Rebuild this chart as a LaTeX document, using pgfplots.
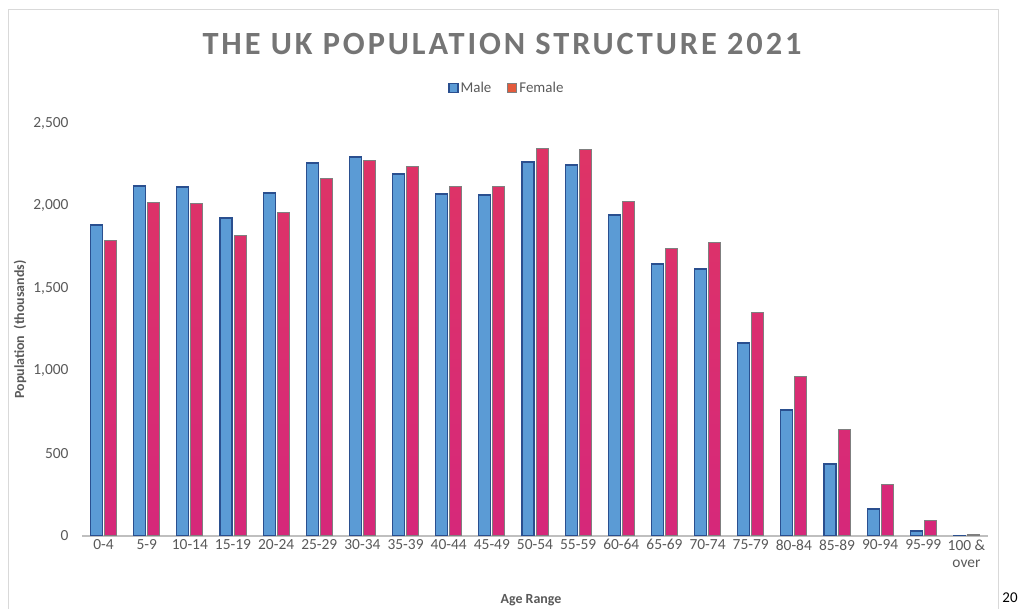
\documentclass[border=0pt]{standalone}
\usepackage{pgfplots}
\pgfplotsset{compat=1.18}
\usepackage{fontspec}
\setmainfont{Carlito}
\newfontfamily\titlefont[LetterSpace=9]{Carlito}
\definecolor{maleF}{HTML}{5B9BD5}
\definecolor{maleB}{HTML}{2A4F8F}
\definecolor{femF}{HTML}{D6287A}
\definecolor{femT}{HTML}{DE3466}
\definecolor{femB}{HTML}{7F7F7F}
\definecolor{femL}{HTML}{E45A3C}
\definecolor{txt}{HTML}{595959}
\definecolor{ttl}{HTML}{757575}
\definecolor{frm}{HTML}{D9D9D9}
\begin{document}
\begin{tikzpicture}[x=1bp,y=1bp]
\path[use as bounding box] (0,0) rectangle (1020,609);
\draw[frm, line width=1bp] (8,-5) -- (8,599) -- (998,599) -- (998,-5);
\node[font=\fontsize{15}{18}\selectfont, text=black] at (1010,11) {20};
\node[font=\titlefont\bfseries\fontsize{32.5}{36}\selectfont, text=ttl] at (502,565) {THE UK POPULATION STRUCTURE 2021};
\begin{axis}[
  at={(82bp,73bp)}, anchor=south west,
  scale only axis, width=906bp, height=413bp,
  xmin=-0.5, xmax=20.5, ymin=0, ymax=2500,
  ybar, bar width=12bp,
  xtick={0,...,20},
  xticklabels={0-4,5-9,10-14,15-19,20-24,25-29,30-34,35-39,40-44,45-49,50-54,55-59,60-64,65-69,70-74,75-79,80-84,85-89,90-94,95-99,{100 \&\\over}},
  xticklabel style={align=center},
  ytick={0,500,...,2500},
  /pgf/number format/1000 sep={,},
  /pgf/number format/assume math mode=true,
  tick label style={font=\fontsize{15.5}{17}\selectfont, text=txt},
  yticklabel style={xshift=-10bp},
  major tick length=0pt,
  axis lines*=left,
  y axis line style={draw=none},
  x axis line style={draw=black!25, line width=1.2bp},
  ylabel={\textbf{Population\ \ (thousands)}},
  y label style={at={(axis description cs:-0.0684,0.5)}, anchor=center, rotate=0, font=\fontsize{14}{16}\selectfont, text=txt},
  xlabel={\textbf{Age Range}},
  x label style={at={(axis description cs:0.4956,-0.155)}, anchor=center, font=\fontsize{14}{16}\selectfont, text=txt},
  legend columns=2,
  legend style={draw=none, fill=none, at={(rel axis cs:0.469,1.085)}, anchor=center, font=\fontsize{15}{17}\selectfont, text=txt,
    /tikz/every even column/.append style={column sep=14bp}},
  legend image code/.code={\draw[#1] (0bp,-4.5bp) rectangle (9bp,4.5bp);},
]
\addplot[bar shift=-7bp, fill=maleF, draw=maleB, line width=1.2bp, forget plot] coordinates {
(0,1883) (1,2119) (2,2113) (3,1925) (4,2076) (5,2258) (6,2294) (7,2191) (8,2070) (9,2064)
(10,2264) (11,2246) (12,1943) (13,1646) (14,1616) (15,1168) (16,763) (17,436) (18,163) (19,30) (20,3)};
\addplot[bar shift=7bp, draw=femB, line width=1bp, top color=femT, bottom color=femF, forget plot] coordinates {
(0,1786) (1,2016) (2,2010) (3,1816) (4,1961) (5,2161) (6,2270) (7,2234) (8,2113) (9,2113)
(10,2343) (11,2337) (12,2022) (13,1743) (14,1774) (15,1350) (16,968) (17,642) (18,309) (19,91) (20,12)};
\addlegendimage{fill=maleF, draw=maleB, line width=1.2bp}
\addlegendentry{Male}
\addlegendimage{fill=femL, draw=femB, line width=1bp}
\addlegendentry{Female}
\end{axis}
\end{tikzpicture}
\end{document}
